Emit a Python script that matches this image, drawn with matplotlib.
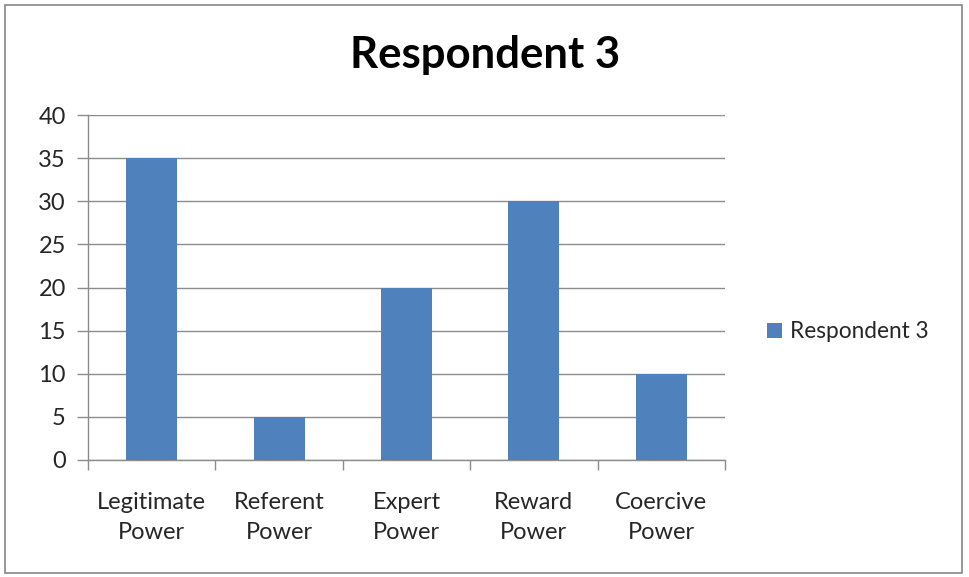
import matplotlib
matplotlib.use("Agg")
import matplotlib.pyplot as plt
from matplotlib.patches import Rectangle

categories = ["Legitimate\nPower", "Referent\nPower", "Expert\nPower", "Reward\nPower", "Coercive\nPower"]
values = [35, 5, 20, 30, 10]
series_name = "Respondent 3"
y_ticks = [0, 5, 10, 15, 20, 25, 30, 35, 40]

plt.rcParams["font.family"] = ["Lato", "DejaVu Sans"]

bar_color = "#4F81BD"
grid_color = "#8C8C8C"
text_color = "#262626"

fig = plt.figure(figsize=(9.69, 5.77), dpi=100)
ax = fig.add_axes([88 / 969, 1 - 460 / 577, (725 - 88) / 969, (460 - 115) / 577])

x = list(range(len(categories)))
ax.bar(x, values, width=0.4, color=bar_color, label=series_name, zorder=3)

ax.set_xlim(-0.5, len(categories) - 0.5)
ax.set_ylim(0, 40)
ax.set_yticks(y_ticks)
ax.set_yticklabels([str(t) for t in y_ticks], fontsize=17, color=text_color)
ax.yaxis.grid(True, color=grid_color, linewidth=1.0, zorder=0)

# category labels centred under bars, ticks on category boundaries
ax.set_xticks(x)
ax.set_xticklabels(categories, fontsize=17, color=text_color, linespacing=1.55)
ax.tick_params(axis="x", which="major", length=0, pad=23)
ax.set_xticks([i - 0.5 for i in range(len(categories) + 1)], minor=True)
ax.tick_params(axis="x", which="minor", length=7, color=grid_color, width=1)
ax.tick_params(axis="y", length=8, color=grid_color, width=1, pad=8)

for side in ("top", "right"):
    ax.spines[side].set_visible(False)
for side in ("left", "bottom"):
    ax.spines[side].set_color(grid_color)
    ax.spines[side].set_linewidth(1.0)

fig.text(485 / 969, 1 - 55 / 577, series_name, ha="center", va="center",
         fontsize=31.5, fontweight="bold", color="#000000")

leg = fig.legend(loc="center left", bbox_to_anchor=(767 / 969, 1 - 332 / 577),
                 frameon=False, fontsize=16.3, handlelength=0.65, handleheight=0.65,
                 handletextpad=0.35, borderpad=0, borderaxespad=0)
for t in leg.get_texts():
    t.set_color(text_color)

# outer chart frame
fig.patches.append(Rectangle((5 / 969, 4 / 577), 957 / 969, 568 / 577,
                             transform=fig.transFigure, fill=False,
                             edgecolor="#868686", linewidth=1.2))

fig.savefig("out.png", dpi=100)
